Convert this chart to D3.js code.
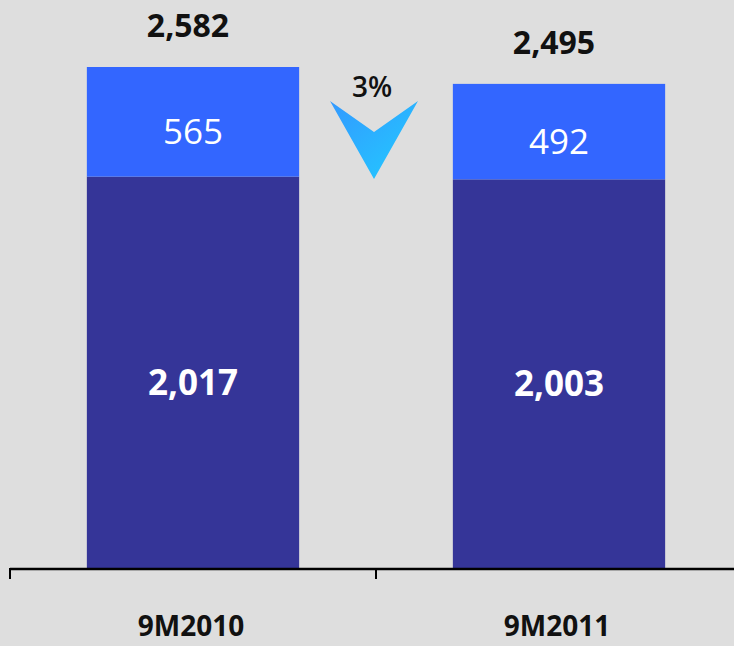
<!DOCTYPE html>
<html lang="en">
<head>
    <meta charset="UTF-8">
    <title>9M2010 vs 9M2011</title>
    <script src="https://d3js.org/d3.v7.min.js"></script>
    <style>
        body { margin: 0; background: #dedede; }
        text { font-family: "Open Sans", "DejaVu Sans", sans-serif; }
    </style>
</head>
<body>
    <svg width="734" height="646" id="chart"></svg>

    <script>
        // Data
        const periods = ["9M2010", "9M2011"];
        const baseValues = [2017, 2003];
        const topValues = [565, 492];
        const changeLabel = "3%";

        const darkColor = "#353598";
        const lightColor = "#3366ff";
        const bgColor = "#dedede";

        const svg = d3.select("#chart");
        svg.append("rect").attr("width", 734).attr("height", 646).attr("fill", bgColor);

        const baseY = 568;
        const totals = periods.map((p, i) => baseValues[i] + topValues[i]);

        // Scales
        const x = d3.scaleBand()
            .domain(periods)
            .range([10, 742])
            .paddingInner(0.42)
            .paddingOuter(0.21);

        const y = d3.scaleLinear()
            .domain([0, 2582])
            .range([baseY, 67]);

        // Stack the two series
        const rows = periods.map((p, i) => ({ period: p, base: baseValues[i], top: topValues[i] }));
        const stacked = d3.stack().keys(["base", "top"])(rows);
        const colors = { base: darkColor, top: lightColor };

        stacked.forEach(layer => {
            svg.append("g").selectAll("rect")
                .data(layer)
                .join("rect")
                .attr("x", d => x(d.data.period))
                .attr("width", x.bandwidth())
                .attr("y", d => y(d[1]))
                .attr("height", d => y(d[0]) - y(d[1]))
                .attr("fill", colors[layer.key]);

            // Segment labels
            svg.append("g").selectAll("text")
                .data(layer)
                .join("text")
                .attr("x", d => x(d.data.period) + x.bandwidth() / 2)
                .attr("y", d => (y(d[0]) + y(d[1])) / 2 + 9)
                .attr("text-anchor", "middle")
                .attr("dominant-baseline", "central")
                .attr("fill", "#ffffff")
                .attr("font-size", 35)
                .attr("font-weight", layer.key === "base" ? "bold" : "normal")
                .text(d => d3.format(",")(d[1] - d[0]));
        });

        // Totals above bars
        svg.append("g").selectAll("text")
            .data(periods)
            .join("text")
            .attr("x", d => x(d) + x.bandwidth() / 2 - 5)
            .attr("y", (d, i) => y(totals[i]) - 30)
            .attr("text-anchor", "middle")
            .attr("fill", "#111")
            .attr("font-size", 32)
            .attr("font-weight", "bold")
            .text((d, i) => d3.format(",")(totals[i]));

        // Category axis: ticks between bands
        const step = x.step();
        const edges = [10, 10 + step, 10 + 2 * step];
        svg.append("line")
            .attr("x1", 10).attr("x2", 734)
            .attr("y1", baseY + 1).attr("y2", baseY + 1)
            .attr("stroke", "#000").attr("stroke-width", 2.5);
        svg.append("g").selectAll("line")
            .data(edges)
            .join("line")
            .attr("x1", d => d).attr("x2", d => d)
            .attr("y1", baseY).attr("y2", baseY + 11)
            .attr("stroke", "#000").attr("stroke-width", 2);

        svg.append("g").selectAll("text")
            .data(periods)
            .join("text")
            .attr("x", d => x(d) + x.bandwidth() / 2 - 2)
            .attr("y", 636)
            .attr("text-anchor", "middle")
            .attr("fill", "#111")
            .attr("font-size", 28)
            .attr("font-weight", "bold")
            .text(d => d);

        // Change arrow between bars
        const defs = svg.append("defs");
        const grad = defs.append("linearGradient")
            .attr("id", "arrowGrad")
            .attr("x1", "0%").attr("y1", "0%")
            .attr("x2", "100%").attr("y2", "100%");
        grad.append("stop").attr("offset", "0%").attr("stop-color", "#3399ff");
        grad.append("stop").attr("offset", "100%").attr("stop-color", "#22ccff");

        const cx = 10 + step;
        svg.append("path")
            .attr("d", d3.line().curve(d3.curveLinearClosed)([
                [cx - 46, 101],
                [cx - 2, 132],
                [cx + 42, 101],
                [cx - 2, 179]
            ]))
            .attr("fill", "url(#arrowGrad)");

        svg.append("text")
            .attr("x", cx - 4)
            .attr("y", 97)
            .attr("text-anchor", "middle")
            .attr("fill", "#111")
            .attr("font-size", 28)
            .attr("font-weight", 600)
            .text(changeLabel);
    </script>
</body>
</html>
